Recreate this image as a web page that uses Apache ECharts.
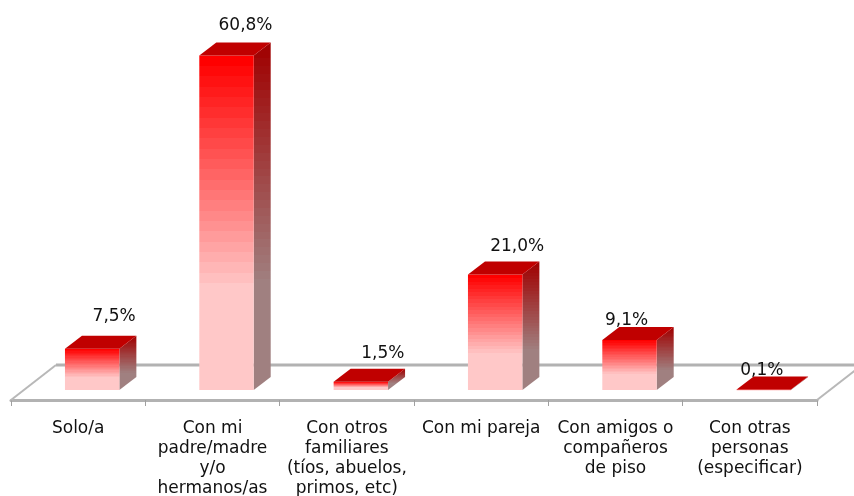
<!DOCTYPE html>
<html><head><meta charset="utf-8">
<style>html,body{margin:0;padding:0;background:#fff}#c{width:854px;height:496px}</style>
<script src="https://cdn.jsdelivr.net/npm/echarts@6/dist/echarts.min.js"></script>
</head><body><div id="c"></div>
<script>
const categories = ['Solo/a','Con mi\npadre/madre\ny/o\nhermanos/as','Con otros\nfamiliares\n(tíos, abuelos,\nprimos, etc)','Con mi pareja','Con amigos o\ncompañeros\nde piso','Con otras\npersonas\n(especificar)'];
const values = [7.5,60.8,1.5,21.0,9.1,0.1];
const labelNudgeX = [22,19,22,22,-3,-2];
const labelNudgeY = [-1,1,3,3,12,12];
const chart = echarts.init(document.getElementById('c'),null,{renderer:'canvas'});
const DX=17,DY=-13,SHIFT=14,LIFT=10,BACK=35,BACKX=45;
function band(c0,c1,n){const stops=[];for(let i=0;i<n;i++){const t=i/n,t2=(i+1)/n;
  const col='rgb('+[0,1,2].map(k=>Math.round(c0[k]+(c1[k]-c0[k])*t)).join(',')+')';
  stops.push({offset:t*0.68,color:col},{offset:t2*0.68,color:col});}
  const e='rgb('+c1.join(',')+')';stops.push({offset:0.68,color:e},{offset:1,color:e});return stops;}
const fmt=v=>v.toFixed(1).replace('.',',')+'%';
chart.setOption({
  animation:false,
  grid:{left:11,right:37,top:15,bottom:96,outerBoundsMode:'none'},
  xAxis:{type:'category',data:categories,boundaryGap:true,
    axisLine:{lineStyle:{color:'#b2b2b2',width:3}},
    axisTick:{show:true,alignWithLabel:false,length:6,lineStyle:{color:'#a0a0a0',width:1}},
    axisLabel:{interval:0,color:'#111',fontFamily:'DejaVu Sans',fontSize:17,lineHeight:20,margin:19,verticalAlign:'top'}},
  yAxis:{type:'value',min:0,max:70,show:false,splitLine:{show:false}},
  series:[
   {type:'custom',silent:true,z:1,clip:false,data:[0],renderItem(p,api){
      const s=p.coordSys,x0=s.x,x1=s.x+s.width,y=s.y+s.height;
      const edge={stroke:'#b8b8b8',lineWidth:2,fill:null};
      return {type:'group',children:[
       {type:'line',shape:{x1:x0+BACKX,y1:y-BACK,x2:x1+BACKX,y2:y-BACK},style:{stroke:'#b2b2b2',lineWidth:3}},
       {type:'line',shape:{x1:x0,y1:y,x2:x0+BACKX,y2:y-BACK},style:edge},
       {type:'line',shape:{x1:x1,y1:y,x2:x1+BACKX,y2:y-BACK},style:edge}]};
   }},
   {type:'custom',z:2,clip:false,data:values.map((v,i)=>[i,v]),encode:{x:0,y:1},renderItem(p,api){
      const i=api.value(0),v=api.value(1),a=api.coord([i,0]),t=api.coord([i,v]);
      const w=api.size([1,0])[0]*0.405,xl=a[0]-w/2+SHIFT,xr=xl+w,yb=a[1]-LIFT,yt=t[1]-LIFT;
      const h=Math.max(yb-yt,1);
      return {type:'group',children:[
       {type:'polygon',shape:{points:[[xr,yt],[xr+DX,yt+DY],[xr+DX,yb+DY],[xr,yb]]},
        style:{fill:new echarts.graphic.LinearGradient(0,0,0,1,band([160,0,0],[160,128,128],30))}},
       {type:'rect',shape:{x:xl,y:yt,width:w,height:h},
        style:{fill:new echarts.graphic.LinearGradient(0,0,0,1,band([255,0,0],[255,200,200],22))}},
       {type:'polygon',shape:{points:[[xl,yt],[xl+DX,yt+DY],[xr+DX,yt+DY],[xr,yt]]},style:{fill:'#c00000'}},
       {type:'text',style:{text:fmt(v),x:(xl+xr)/2+labelNudgeX[i],y:yt+DY-18+labelNudgeY[i],align:'center',verticalAlign:'middle',
         font:'17px "DejaVu Sans"',fill:'#111'}}
      ]};
   }}
  ]
});
</script></body></html>
